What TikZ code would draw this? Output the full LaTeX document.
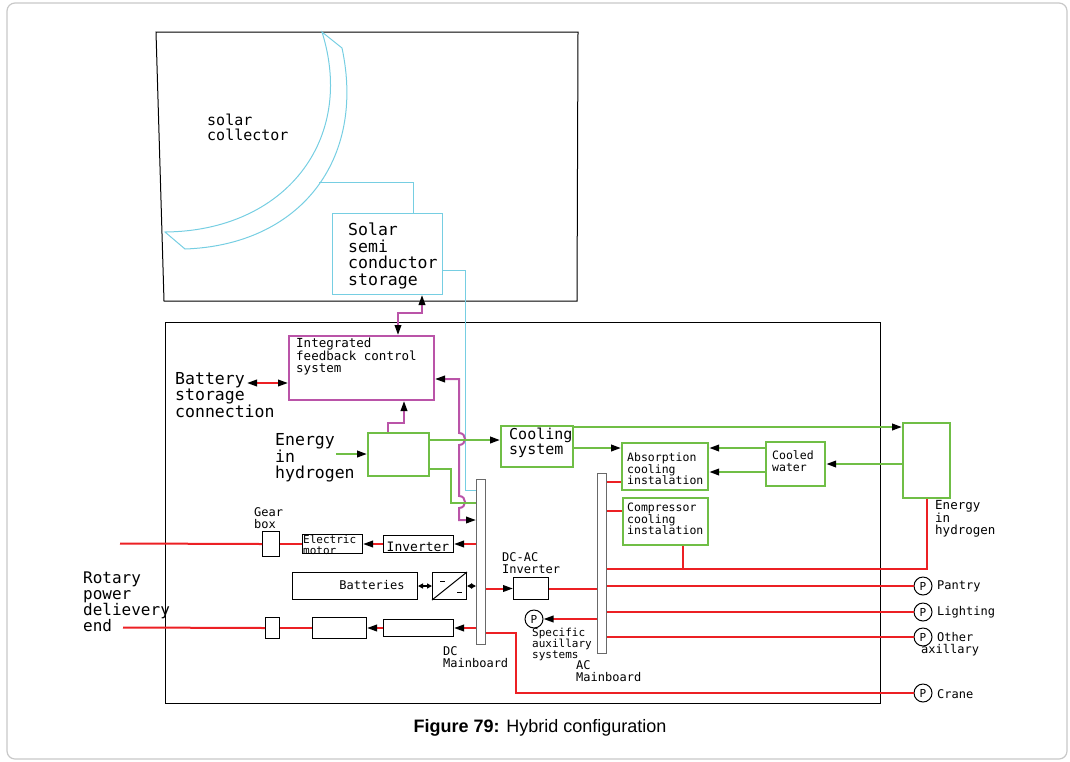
\documentclass[tikz,border=0pt]{standalone}
\usepackage{fontspec}
\setmainfont{Liberation Sans}
\newfontfamily\cadfont{DejaVu Sans Mono}
\usepackage{xcolor}
\usepackage{tikz}
\usetikzlibrary{arrows.meta,positioning,calc}

\definecolor{powerred}{RGB}{236,32,36}
\definecolor{heatgreen}{RGB}{112,190,70}
\definecolor{ctrlpink}{RGB}{186,84,168}
\definecolor{solarcyan}{RGB}{118,206,226}
\definecolor{busgray}{RGB}{105,105,105}
\definecolor{framegray}{RGB}{200,200,200}

\newcommand{\cadsize}[1]{\cadfont\fontsize{#1}{#1}\selectfont}

\begin{document}
\begin{tikzpicture}[
    x=1pt, y=-1pt,
    blk/.style={
        rectangle,
        draw=black,
        line width=1pt,
        anchor=north west,
        inner sep=0pt
    },
    greenbox/.style={blk, draw=heatgreen, line width=2.2pt},
    pinkbox/.style={blk, draw=ctrlpink, line width=2pt},
    cyanbox/.style={blk, draw=solarcyan},
    busbar/.style={blk, draw=busgray, line width=1.3pt},
    pump/.style={
        circle,
        draw,
        line width=1pt,
        minimum size=18pt,
        inner sep=0pt,
        font=\cadsize{11}
    },
    lbl/.style={anchor=west, inner sep=0pt, align=left},
    power/.style={draw=powerred, line width=2pt},
    heat/.style={draw=heatgreen, line width=2.2pt},
    ctrl/.style={draw=ctrlpink, line width=2pt},
    solar/.style={draw=solarcyan, line width=1pt},
    arrow/.style={-{Triangle[length=10pt,width=6.5pt,color=black]}},
    twoway/.style={{Triangle[length=10pt,width=6.5pt,color=black]}-{Triangle[length=10pt,width=6.5pt,color=black]}},
    smallway/.style={{Triangle[length=5pt,width=5pt]}-{Triangle[length=5pt,width=5pt]}, line width=1.3pt}
]

\useasboundingbox (0,0) rectangle (1070,761);

% =========================
% Frames
% =========================

\draw[framegray, line width=1.2pt, rounded corners=8pt] (7,3) rectangle (1067,759);

\draw[line width=1pt] (156,32) -- (578,32) -- (577,301) -- (164,301) -- cycle;
\draw[line width=1pt] (165,322) rectangle (880,703);

% =========================
% Solar block
% =========================

\draw[solar]
(322,32) .. controls (356,140) and (285,231) .. (165,232)
-- (185,249) .. controls (300,245) and (366,160) .. (342,48)
-- cycle;
\coordinate (collectorout) at (319,182);

\node[lbl, font=\cadsize{15}] (collectortext) at (207,127)
{solar\\collector};

\node[cyanbox, minimum width=110, minimum height=81] (storage) at (332,213) {};
\node[lbl, font=\cadsize{16.5}] (storagetext) at (348,256)
{Solar\\semi\\conductor\\storage};

% =========================
% Control and hydrogen
% =========================

\node[pinkbox, minimum width=145, minimum height=64] (ifcs) at (288,335) {};
\node[lbl, font=\cadsize{12.5}] (ifcstext) at (296,357)
{Integrated\\feedback control\\system};

\node[lbl, font=\cadsize{16.5}] (batterytext) at (175,395)
{Battery\\storage\\connection};
\coordinate (batteryend) at (247,383);

\node[greenbox, minimum width=61, minimum height=43] (h2in) at (367,432) {};
\node[lbl, font=\cadsize{16.5}] (h2intext) at (275,458)
{Energy\\in\\hydrogen};
\coordinate (h2feed) at (336,454);

% =========================
% Cooling plant
% =========================

\node[greenbox, minimum width=72, minimum height=41] (cooling) at (500,425) {};
\node[lbl, font=\cadsize{15}] (coolingtext) at (509,443)
{Cooling\\system};

\node[greenbox, minimum width=86, minimum height=47] (absorb) at (621,442) {};
\node[lbl, font=\cadsize{11.5}] (absorbtext) at (627,469)
{Absorption\\cooling\\instalation};

\node[greenbox, minimum width=85, minimum height=47] (compress) at (622,497) {};
\node[lbl, font=\cadsize{11.5}] (compresstext) at (627,519)
{Compressor\\cooling\\instalation};

\node[greenbox, minimum width=59, minimum height=44] (cooled) at (765,441) {};
\node[lbl, font=\cadsize{11.5}] (cooledtext) at (772,461)
{Cooled\\water};

\node[greenbox, minimum width=47, minimum height=75] (h2right) at (902,422) {};
\node[lbl, font=\cadsize{12.5}] (h2righttext) at (935,519)
{Energy\\in\\hydrogen};

% =========================
% DC side
% =========================

\node[busbar, minimum width=9, minimum height=165] (dcbus) at (476,479) {};
\node[lbl, font=\cadsize{12}] (dcbustext) at (443,657) {DC\\Mainboard};

\node[blk, minimum width=17, minimum height=25] (gear1) at (262,531) {};
\node[lbl, font=\cadsize{12}] (geartext) at (254,518) {Gear\\box};
\node[blk, minimum width=60, minimum height=19] (motor1) at (302,534) {};
\node[lbl, font=\cadsize{11}] (motortext) at (303,545) {Electric\\motor};
\node[blk, minimum width=70, minimum height=17] (inv1) at (383,535) {};
\node[font=\cadsize{13}, inner sep=0pt] (inv1text) at (418,547) {Inverter};

\node[blk, minimum width=125, minimum height=27] (batt) at (292,572) {};
\node[font=\cadsize{12}, inner sep=0pt] (batttext) at (372,585) {Batteries};
\node[blk, minimum width=34, minimum height=27] (conv) at (432,572) {};

\node[blk, minimum width=14, minimum height=21] (gear2) at (265,617) {};
\node[blk, minimum width=54, minimum height=21] (motor2) at (312,617) {};
\node[blk, minimum width=70, minimum height=17] (inv2) at (383,619) {};

\node[lbl, font=\cadsize{16}] (rotarytext) at (83,602)
{Rotary\\power\\delievery\\end};
\coordinate (shaftA) at (120,543.5);
\coordinate (shaftB) at (123,627.5);

\node[blk, minimum width=35, minimum height=22] (dcac) at (513,577) {};
\node[lbl, font=\cadsize{12}] (dcactext) at (502,563) {DC-AC\\Inverter};

% =========================
% AC side
% =========================

\node[busbar, minimum width=9, minimum height=180] (acbus) at (597,473) {};
\node[lbl, font=\cadsize{12}] (acbustext) at (576,671) {AC\\Mainboard};

\node[pump] (pspec) at (534,619) {P};
\node[lbl, font=\cadsize{11}] (spectext) at (532,644)
{Specific\\auxillary\\systems};

\node[pump] (ppantry) at (923,586) {P};
\node[pump] (plight) at (923,612) {P};
\node[pump] (pother) at (923,637) {P};
\node[pump] (pcrane) at (923,693) {P};
\node[lbl, font=\cadsize{12}] (pantrytext) at (937,586) {Pantry};
\node[lbl, font=\cadsize{12}] (lighttext) at (937,612) {Lighting};
\node[lbl, font=\cadsize{12}] (othertext) at (937,637) {Other};
\node[lbl, font=\cadsize{12}] (axtext) at (921,650) {axillary};
\node[lbl, font=\cadsize{12}] (cranetext) at (937,694) {Crane};

% =========================
% Bus taps
% =========================

\coordinate (dcsolar) at ($(dcbus.north west)+(0,11)$);
\coordinate (dcgreen) at ($(dcbus.north west)+(0,24)$);
\coordinate (dcmagenta) at ($(dcbus.north west)+(0,41)$);
\coordinate (dccrane) at ($(dcbus.north east)+(0,154)$);
\coordinate (acabs) at ($(acbus.north east)+(0,9)$);
\coordinate (accomp) at ($(acbus.north east)+(0,38)$);
\coordinate (achydro) at ($(acbus.north east)+(0,96)$);
\coordinate (compdrop) at ($(compress.south west)+(61,0)$);

% =========================
% Solar and control links
% =========================

\draw[solar] (collectorout) -| ($(storage.north west)+(81,0)$);
\draw[solar] ($(storage.north east)+(0,57)$) -- ++(22,0) |- (dcsolar);

\draw[ctrl, twoway]
($(ifcs.north west)+(110,0)$)
-- ++(0,-22)
-| ($(storage.south west)+(90,0)$);

\draw[ctrl, arrow]
($(h2in.north west)+(21,0)$)
-- ++(0,-9)
-| ($(ifcs.south west)+(116,0)$);

\draw[ctrl, twoway]
($(ifcs.north east)+(0,44)$)
-- ++(24,0) -- ++(0,54)
.. controls +(8,0) and +(8,0) .. ++(0,12)
-- ++(0,51)
.. controls +(8,0) and +(8,0) .. ++(0,12)
|- (dcmagenta);

\draw[power, twoway] (batteryend) -- (batteryend -| ifcs.west);

% =========================
% Heat flows
% =========================

\coordinate (h2top) at ($(h2in.north east)+(0,8)$);
\coordinate (coolhi) at ($(cooling.north east)+(0,2)$);
\coordinate (coollo) at ($(cooling.north east)+(0,23)$);
\coordinate (cwhi) at ($(cooled.north west)+(0,7)$);
\coordinate (cwlo) at ($(cooled.north west)+(0,31)$);
\coordinate (h2ret) at ($(h2right.north west)+(0,42)$);

\draw[heat, arrow] (h2feed) -- (h2feed -| h2in.west);
\draw[heat, arrow] (h2top) -- (h2top -| cooling.west);
\draw[heat] ($(h2in.south east)+(0,-8)$) -- ++(21,0) |- (dcgreen);
\draw[heat, arrow] (coolhi) -- (coolhi -| h2right.west);
\draw[heat, arrow] (coollo) -- (coollo -| absorb.west);
\draw[heat, arrow] (cwhi) -- (cwhi -| absorb.east);
\draw[heat, arrow] (cwlo) -- (cwlo -| absorb.east);
\draw[heat, arrow] (h2ret) -- (h2ret -| cooled.east);

% =========================
% DC power
% =========================

\draw[power, arrow] (dcbus.west |- inv1.east) -- (inv1.east);
\draw[power, arrow] (inv1.west) -- (inv1.west -| motor1.east);
\draw[power] (motor1.west) -- (motor1.west -| gear1.east);
\draw[power] (gear1.west) -- (shaftA);

\draw[smallway] (batt.east) -- (batt.east -| conv.west);
\draw[smallway] (conv.east) -- (conv.east -| dcbus.west);
\draw[line width=1pt] (conv.south west) -- (conv.north east);
\draw[line width=1pt] ($(conv.north west)+(8,9)$) -- ++(5,0);
\draw[line width=1pt] ($(conv.south east)+(-10,-8)$) -- ++(5,0);

\draw[power, arrow] (dcbus.west |- inv2.east) -- (inv2.east);
\draw[power, arrow] (inv2.west) -- (inv2.west -| motor2.east);
\draw[power] (motor2.west) -- (motor2.west -| gear2.east);
\draw[power] (gear2.west) -- (shaftB);

\draw[power, arrow] (dcbus.east |- dcac.west) -- (dcac.west);
\draw[power] (dcac.east) -- (dcac.east -| acbus.west);
\draw[power] (dccrane) -- ++(30,0) |- (pcrane.west);

% =========================
% AC power
% =========================

\draw[power] (acabs) -- (acabs -| absorb.west);
\draw[power] (accomp) -- (accomp -| compress.west);
\draw[power] (achydro) -| (h2right.south);
\draw[power] (compdrop) -- (compdrop |- achydro);
\draw[power] (acbus.east |- ppantry) -- (ppantry.west);
\draw[power] (acbus.east |- plight) -- (plight.west);
\draw[power] (acbus.east |- pother) -- (pother.west);
\draw[power, arrow] (acbus.west |- pspec) -- (pspec.east);

% =========================
% Caption
% =========================

\node[font=\fontsize{18}{21}\selectfont] (caption) at (540,728)
{\textbf{Figure 79:} Hybrid configuration};

\end{tikzpicture}
\end{document}
